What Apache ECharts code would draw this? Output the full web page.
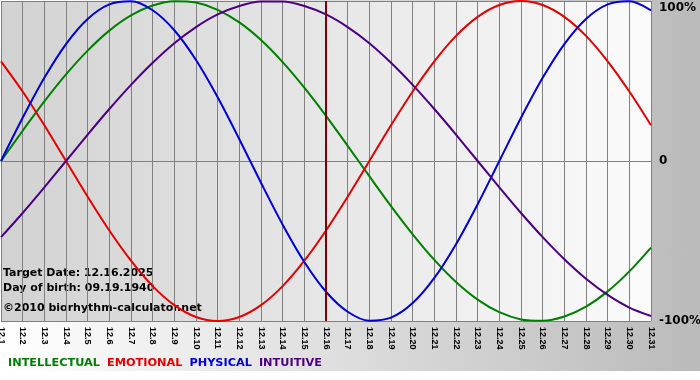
<!DOCTYPE html>
<html>
<head>
<meta charset="utf-8">
<script src="https://cdn.jsdelivr.net/npm/echarts@6/dist/echarts.min.js"></script>
<style>
  html, body { margin: 0; padding: 0; background: #fff; }
  #main_chart {
    width: 700px; height: 380px;
    background: linear-gradient(to right, #ffffff, #bababa) no-repeat;
    background-size: 700px 371px;
  }
</style>
</head>
<body>
<div id="main_chart"></div>
<script>
var days = ['12.1','12.2','12.3','12.4','12.5','12.6','12.7','12.8','12.9','12.10',
            '12.11','12.12','12.13','12.14','12.15','12.16','12.17','12.18','12.19','12.20',
            '12.21','12.22','12.23','12.24','12.25','12.26','12.27','12.28','12.29','12.30','12.31'];

// percent values, one per day
var intellectual = [0, 18.9, 37.2, 54.1, 69, 81.5, 91, 97.2, 99.9, 99, 94.5, 86.6, 75.6, 61.8, 45.8, 28.2,
                    9.5, -9.5, -28.2, -45.8, -61.8, -75.6, -86.6, -94.5, -99, -99.9, -97.2, -91, -81.5, -69, -54.1];
var emotional = [62.3, 43.4, 22.3, 0, -22.3, -43.4, -62.3, -78.2, -90.1, -97.5, -100, -97.5, -90.1, -78.2, -62.3, -43.4,
                 -22.3, 0, 22.3, 43.4, 62.3, 78.2, 90.1, 97.5, 100, 97.5, 90.1, 78.2, 62.3, 43.4, 22.3];
var physical = [0, 27, 52, 73.1, 88.8, 97.9, 99.8, 94.2, 81.7, 63.1, 39.8, 13.6, -13.6, -39.8, -63.1, -81.7,
                -94.2, -99.8, -97.9, -88.8, -73.1, -52, -27, 0, 27, 52, 73.1, 88.8, 97.9, 99.8, 94.2];
var intuitive = [-47.6, -32.5, -16.5, 0, 16.5, 32.5, 47.6, 61.4, 73.6, 83.7, 91.6, 96.9, 99.7, 99.7, 96.9, 91.6,
                 83.7, 73.6, 61.4, 47.6, 32.5, 16.5, 0, -16.5, -32.5, -47.6, -61.4, -73.6, -83.7, -91.6, -96.9];

var yTicks = [-100, 0, 100];
var targetDay = '12.16';
var infoLines = ['Target Date: 12.16.2025', 'Day of birth: 09.19.1940'];
var copyright = '\u00a92010 biorhythm-calculator.net';

var names = ['INTELLECTUAL', 'EMOTIONAL', 'PHYSICAL', 'INTUITIVE'];
var colors = ['#008000', '#e60000', '#0000dd', '#4b0082'];
var values = [intellectual, emotional, physical, intuitive];

var boldFont = 'DejaVu Sans';

var series = [];
names.forEach(function(item, i){
    var obj = {
        name: item,
        type: 'line',
        data: values[i],
        smooth: 0.3,
        showSymbol: false,
        symbol: 'none',
        lineStyle: { color: colors[i], width: 2 },
        itemStyle: { color: colors[i] }
    };
    if (i === names.length - 1) {
        obj.markLine = {
            silent: true,
            symbol: 'none',
            label: { show: false },
            lineStyle: { color: '#800000', width: 2, type: 'solid' },
            data: [{ xAxis: targetDay }]
        };
    }
    series.push(obj);
});

var chartOpt = {
    backgroundColor: 'transparent',
    animation: false,
    grid: {
        show: true, left: 1, top: 1, right: 49, bottom: 59,
        outerBoundsMode: 'none',
        containLabel: false,
        borderWidth: 0,
        backgroundColor: new echarts.graphic.LinearGradient(0, 0, 1, 0, [
            { offset: 0, color: '#d2d2d2' },
            { offset: 1, color: '#fbfbfb' }
        ])
    },
    legend: {
        left: -2, top: 353,
        icon: 'none', itemWidth: 0, itemHeight: 10, itemGap: 2,
        selectedMode: false,
        textStyle: { fontFamily: boldFont, fontWeight: 'bold', fontSize: 11.3 },
        data: names.map(function(n, i){ return { name: n, textStyle: { color: colors[i] } }; })
    },
    xAxis: {
        type: 'category',
        data: days,
        boundaryGap: false,
        axisLine: { show: true, lineStyle: { color: '#808080', width: 1 } },
        axisTick: { show: true, interval: 0, length: 3, lineStyle: { color: '#808080' } },
        splitLine: { show: true, interval: 0, lineStyle: { color: '#808080', width: 1 } },
        axisLabel: {
            interval: 0, rotate: -90, margin: 6,
            fontFamily: 'Liberation Sans', fontWeight: 'bold', fontSize: 9, color: '#000'
        }
    },
    yAxis: {
        type: 'value',
        position: 'right',
        min: yTicks[0], max: yTicks[2], interval: 100,
        axisLine: { show: false },
        axisTick: { show: false },
        splitLine: { show: true, lineStyle: { color: '#808080', width: 1 } },
        axisLabel: {
            margin: 8,
            color: '#000', fontFamily: boldFont, fontWeight: 'bold', fontSize: 12,
            formatter: function(v){
                if (v === 0) return '0';
                if (v === yTicks[2]) return '{top|' + v + '%}';
                return v + '%';
            },
            rich: {
                top: { padding: [14, 0, 0, 0], fontFamily: boldFont, fontWeight: 'bold', fontSize: 12, color: '#000' }
            }
        }
    },
    graphic: [
        { type: 'text', left: 3, top: 268, style: { text: infoLines[0], font: 'bold 11px "DejaVu Sans"', fill: '#000' } },
        { type: 'text', left: 3, top: 283, style: { text: infoLines[1], font: 'bold 11px "DejaVu Sans"', fill: '#000' } },
        { type: 'text', left: 3, top: 303, style: { text: copyright, font: 'bold 11px "DejaVu Sans"', fill: '#000' } }
    ],
    series: series
};

var main_chart = echarts.init(document.getElementById('main_chart'));
main_chart.setOption(chartOpt);
</script>
</body>
</html>
